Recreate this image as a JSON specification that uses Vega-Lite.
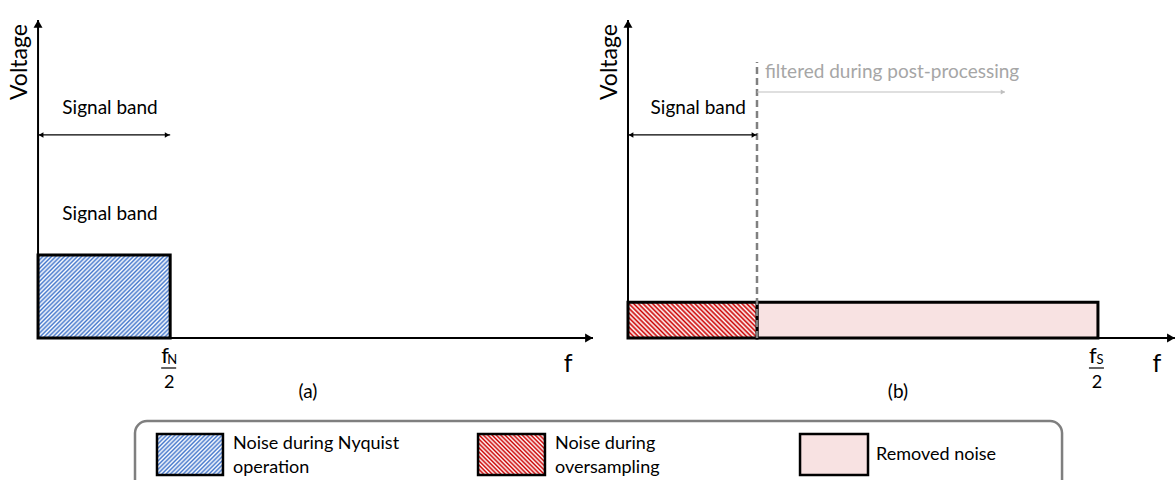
{
  "$schema": "https://vega.github.io/schema/vega-lite/v6.json",
  "background": "white",
  "padding": 0,
  "spacing": 0,
  "config": {
    "view": {"stroke": null},
    "axis": {"disable": true},
    "legend": {"disable": true},
    "font": "Lato",
    "text": {"font": "Lato", "color": "#000000"}
  },
  "vconcat": [
    {
      "bounds": "flush",
      "spacing": 0,
      "hconcat": [
        {
          "width": 593,
          "height": 400,
          "encoding": {
            "x": {"field": "f", "type": "quantitative", "scale": {"domain": [-0.2879, 4.2], "nice": false, "zero": false}},
            "y": {"field": "v", "type": "quantitative", "scale": {"domain": [-0.7796, 4.25], "nice": false, "zero": false}}
          },
          "layer": [
            {
              "data": {"values": [{"item": "Noise during Nyquist operation", "f": 0, "f2": 1, "v": 0, "v2": 1.045}]},
              "mark": {"type": "rect", "stroke": "#000", "strokeWidth": 3,
                "fill": {"gradient": "linear", "x1": 0, "y1": 0, "x2": 1.167, "y2": 0.7347, "stops": [
                  {"offset":0,"color":"#fff"},{"offset":0.01,"color":"#47c"},{"offset":0.02,"color":"#fff"},{"offset":0.03,"color":"#47c"},{"offset":0.04,"color":"#fff"},{"offset":0.05,"color":"#47c"},{"offset":0.06,"color":"#fff"},{"offset":0.07,"color":"#47c"},{"offset":0.08,"color":"#fff"},{"offset":0.09,"color":"#47c"},
                  {"offset":0.1,"color":"#fff"},{"offset":0.11,"color":"#47c"},{"offset":0.12,"color":"#fff"},{"offset":0.13,"color":"#47c"},{"offset":0.14,"color":"#fff"},{"offset":0.15,"color":"#47c"},{"offset":0.16,"color":"#fff"},{"offset":0.17,"color":"#47c"},{"offset":0.18,"color":"#fff"},{"offset":0.19,"color":"#47c"},
                  {"offset":0.2,"color":"#fff"},{"offset":0.21,"color":"#47c"},{"offset":0.22,"color":"#fff"},{"offset":0.23,"color":"#47c"},{"offset":0.24,"color":"#fff"},{"offset":0.25,"color":"#47c"},{"offset":0.26,"color":"#fff"},{"offset":0.27,"color":"#47c"},{"offset":0.28,"color":"#fff"},{"offset":0.29,"color":"#47c"},
                  {"offset":0.3,"color":"#fff"},{"offset":0.31,"color":"#47c"},{"offset":0.32,"color":"#fff"},{"offset":0.33,"color":"#47c"},{"offset":0.34,"color":"#fff"},{"offset":0.35,"color":"#47c"},{"offset":0.36,"color":"#fff"},{"offset":0.37,"color":"#47c"},{"offset":0.38,"color":"#fff"},{"offset":0.39,"color":"#47c"},
                  {"offset":0.4,"color":"#fff"},{"offset":0.41,"color":"#47c"},{"offset":0.42,"color":"#fff"},{"offset":0.43,"color":"#47c"},{"offset":0.44,"color":"#fff"},{"offset":0.45,"color":"#47c"},{"offset":0.46,"color":"#fff"},{"offset":0.47,"color":"#47c"},{"offset":0.48,"color":"#fff"},{"offset":0.49,"color":"#47c"},
                  {"offset":0.5,"color":"#fff"},{"offset":0.51,"color":"#47c"},{"offset":0.52,"color":"#fff"},{"offset":0.53,"color":"#47c"},{"offset":0.54,"color":"#fff"},{"offset":0.55,"color":"#47c"},{"offset":0.56,"color":"#fff"},{"offset":0.57,"color":"#47c"},{"offset":0.58,"color":"#fff"},{"offset":0.59,"color":"#47c"},
                  {"offset":0.6,"color":"#fff"},{"offset":0.61,"color":"#47c"},{"offset":0.62,"color":"#fff"},{"offset":0.63,"color":"#47c"},{"offset":0.64,"color":"#fff"},{"offset":0.65,"color":"#47c"},{"offset":0.66,"color":"#fff"},{"offset":0.67,"color":"#47c"},{"offset":0.68,"color":"#fff"},{"offset":0.69,"color":"#47c"},
                  {"offset":0.7,"color":"#fff"},{"offset":0.71,"color":"#47c"},{"offset":0.72,"color":"#fff"},{"offset":0.73,"color":"#47c"},{"offset":0.74,"color":"#fff"},{"offset":0.75,"color":"#47c"},{"offset":0.76,"color":"#fff"},{"offset":0.77,"color":"#47c"},{"offset":0.78,"color":"#fff"},{"offset":0.79,"color":"#47c"},
                  {"offset":0.8,"color":"#fff"},{"offset":0.81,"color":"#47c"},{"offset":0.82,"color":"#fff"},{"offset":0.83,"color":"#47c"},{"offset":0.84,"color":"#fff"},{"offset":0.85,"color":"#47c"},{"offset":0.86,"color":"#fff"},{"offset":0.87,"color":"#47c"},{"offset":0.88,"color":"#fff"},{"offset":0.89,"color":"#47c"},
                  {"offset":0.9,"color":"#fff"},{"offset":0.91,"color":"#47c"},{"offset":0.92,"color":"#fff"},{"offset":0.93,"color":"#47c"},{"offset":0.94,"color":"#fff"},{"offset":0.95,"color":"#47c"},{"offset":0.96,"color":"#fff"},{"offset":0.97,"color":"#47c"},{"offset":0.98,"color":"#fff"},{"offset":0.99,"color":"#47c"},
                  {"offset":1,"color":"#fff"}]}},
              "encoding": {"x2": {"field": "f2"}, "y2": {"field": "v2"}}
            },
            {
              "data": {"values": [{"f": 0, "v": 0, "v2": 4}]},
              "mark": {"type": "rule", "color": "#000", "strokeWidth": 2},
              "encoding": {"y2": {"field": "v2"}}
            },
            {
              "data": {"values": [{"f": 0, "f2": 4.2, "v": 0}]},
              "mark": {"type": "rule", "color": "#000", "strokeWidth": 2},
              "encoding": {"x2": {"field": "f2"}}
            },
            {
              "data": {"values": [{"f": 0, "v": 4}]},
              "mark": {"type": "point", "shape": "triangle-up", "filled": true, "size": 80, "color": "#000", "opacity": 1, "yOffset": 4}
            },
            {
              "data": {"values": [{"f": 4.2, "v": 0}]},
              "mark": {"type": "point", "shape": "triangle-right", "filled": true, "size": 80, "color": "#000", "opacity": 1, "xOffset": -4}
            },
            {
              "data": {"values": [{"f": 0, "f2": 1, "v": 2.553}]},
              "mark": {"type": "rule", "color": "#000", "strokeWidth": 1.2},
              "encoding": {"x2": {"field": "f2"}}
            },
            {
              "data": {"values": [{"f": 0, "v": 2.553}]},
              "mark": {"type": "point", "shape": "triangle-left", "filled": true, "size": 30, "color": "#000", "opacity": 1, "xOffset": 3}
            },
            {
              "data": {"values": [{"f": 1, "v": 2.553}]},
              "mark": {"type": "point", "shape": "triangle-right", "filled": true, "size": 30, "color": "#000", "opacity": 1, "xOffset": -3}
            },
            {
              "data": {"values": [{"t": "Signal band", "f": 0.545, "v": 2.892}, {"t": "Signal band", "f": 0.545, "v": 1.559}]},
              "mark": {"type": "text", "fontSize": 19, "align": "center", "baseline": "middle"},
              "encoding": {"text": {"field": "t"}}
            },
            {
              "data": {"values": [{"t": "Voltage", "f": -0.136, "v": 3.47}]},
              "mark": {"type": "text", "fontSize": 23, "angle": 270, "align": "center", "baseline": "middle"},
              "encoding": {"text": {"field": "t"}}
            },
            {
              "data": {"values": [{"t": "f", "f": 4.011, "v": 0}]},
              "mark": {"type": "text", "fontSize": 25, "align": "center", "baseline": "alphabetic", "dy": 34},
              "encoding": {"text": {"field": "t"}}
            },
            {
              "data": {"values": [{"t": "(a)", "f": 2.043, "v": 0}]},
              "mark": {"type": "text", "fontSize": 19, "align": "center", "baseline": "middle", "dy": 54},
              "encoding": {"text": {"field": "t"}}
            },
            {
              "data": {"values": [{"t": "f", "f": 1, "v": 0}]},
              "mark": {"type": "text", "fontSize": 22, "align": "center", "baseline": "alphabetic", "dx": -5, "dy": 25},
              "encoding": {"text": {"field": "t"}}
            },
            {
              "data": {"values": [{"t": "N", "f": 1, "v": 0}]},
              "mark": {"type": "text", "fontSize": 13, "align": "center", "baseline": "alphabetic", "dx": 2, "dy": 26},
              "encoding": {"text": {"field": "t"}}
            },
            {
              "data": {"values": [{"f": 1, "f2": 1, "v": 0}]},
              "mark": {"type": "rule", "color": "#000", "strokeWidth": 1.2, "xOffset": -9, "x2Offset": 6, "yOffset": 30},
              "encoding": {"x2": {"field": "f2"}}
            },
            {
              "data": {"values": [{"t": "2", "f": 1, "v": 0}]},
              "mark": {"type": "text", "fontSize": 18, "align": "center", "baseline": "alphabetic", "dx": -1, "dy": 50},
              "encoding": {"text": {"field": "t"}}
            }
          ]
        },
        {
          "width": 583,
          "height": 400,
          "encoding": {
            "x": {"field": "f", "type": "quantitative", "scale": {"domain": [-0.2713, 4.2481], "nice": false, "zero": false}},
            "y": {"field": "v", "type": "quantitative", "scale": {"domain": [-0.7796, 4.25], "nice": false, "zero": false}}
          },
          "layer": [
            {
              "data": {"values": [{"item": "Removed noise", "f": 1, "f2": 3.643, "v": 0, "v2": 0.45}]},
              "mark": {"type": "rect", "fill": "#f8e2e2", "stroke": "#000", "strokeWidth": 3},
              "encoding": {"x2": {"field": "f2"}, "y2": {"field": "v2"}}
            },
            {
              "data": {"values": [{"item": "Noise during oversampling", "f": 0, "f2": 1, "v": 0, "v2": 0.45}]},
              "mark": {"type": "rect", "stroke": "#000", "strokeWidth": 3,
                "fill": {"gradient": "linear", "x1": 0, "y1": 1, "x2": 1.1862, "y2": 0.6708, "stops": [
                  {"offset":0,"color":"#fff"},{"offset":0.0143,"color":"#c00"},{"offset":0.0286,"color":"#fff"},{"offset":0.0429,"color":"#c00"},{"offset":0.0571,"color":"#fff"},{"offset":0.0714,"color":"#c00"},{"offset":0.0857,"color":"#fff"},{"offset":0.1,"color":"#c00"},
                  {"offset":0.1143,"color":"#fff"},{"offset":0.1286,"color":"#c00"},{"offset":0.1429,"color":"#fff"},{"offset":0.1571,"color":"#c00"},{"offset":0.1714,"color":"#fff"},{"offset":0.1857,"color":"#c00"},{"offset":0.2,"color":"#fff"},
                  {"offset":0.2143,"color":"#c00"},{"offset":0.2286,"color":"#fff"},{"offset":0.2429,"color":"#c00"},{"offset":0.2571,"color":"#fff"},{"offset":0.2714,"color":"#c00"},{"offset":0.2857,"color":"#fff"},{"offset":0.3,"color":"#c00"},
                  {"offset":0.3143,"color":"#fff"},{"offset":0.3286,"color":"#c00"},{"offset":0.3429,"color":"#fff"},{"offset":0.3571,"color":"#c00"},{"offset":0.3714,"color":"#fff"},{"offset":0.3857,"color":"#c00"},{"offset":0.4,"color":"#fff"},
                  {"offset":0.4143,"color":"#c00"},{"offset":0.4286,"color":"#fff"},{"offset":0.4429,"color":"#c00"},{"offset":0.4571,"color":"#fff"},{"offset":0.4714,"color":"#c00"},{"offset":0.4857,"color":"#fff"},{"offset":0.5,"color":"#c00"},
                  {"offset":0.5143,"color":"#fff"},{"offset":0.5286,"color":"#c00"},{"offset":0.5429,"color":"#fff"},{"offset":0.5571,"color":"#c00"},{"offset":0.5714,"color":"#fff"},{"offset":0.5857,"color":"#c00"},{"offset":0.6,"color":"#fff"},
                  {"offset":0.6143,"color":"#c00"},{"offset":0.6286,"color":"#fff"},{"offset":0.6429,"color":"#c00"},{"offset":0.6571,"color":"#fff"},{"offset":0.6714,"color":"#c00"},{"offset":0.6857,"color":"#fff"},{"offset":0.7,"color":"#c00"},
                  {"offset":0.7143,"color":"#fff"},{"offset":0.7286,"color":"#c00"},{"offset":0.7429,"color":"#fff"},{"offset":0.7571,"color":"#c00"},{"offset":0.7714,"color":"#fff"},{"offset":0.7857,"color":"#c00"},{"offset":0.8,"color":"#fff"},
                  {"offset":0.8143,"color":"#c00"},{"offset":0.8286,"color":"#fff"},{"offset":0.8429,"color":"#c00"},{"offset":0.8571,"color":"#fff"},{"offset":0.8714,"color":"#c00"},{"offset":0.8857,"color":"#fff"},{"offset":0.9,"color":"#c00"},
                  {"offset":0.9143,"color":"#fff"},{"offset":0.9286,"color":"#c00"},{"offset":0.9429,"color":"#fff"},{"offset":0.9571,"color":"#c00"},{"offset":0.9714,"color":"#fff"},{"offset":0.9857,"color":"#c00"},{"offset":1,"color":"#fff"}]}},
              "encoding": {"x2": {"field": "f2"}, "y2": {"field": "v2"}}
            },
            {
              "data": {"values": [{"f": 0, "v": 0, "v2": 4}]},
              "mark": {"type": "rule", "color": "#000", "strokeWidth": 2},
              "encoding": {"y2": {"field": "v2"}}
            },
            {
              "data": {"values": [{"f": 0, "f2": 4.24, "v": 0}]},
              "mark": {"type": "rule", "color": "#000", "strokeWidth": 2},
              "encoding": {"x2": {"field": "f2"}}
            },
            {
              "data": {"values": [{"f": 0, "v": 4}]},
              "mark": {"type": "point", "shape": "triangle-up", "filled": true, "size": 80, "color": "#000", "opacity": 1, "yOffset": 4}
            },
            {
              "data": {"values": [{"f": 4.24, "v": 0}]},
              "mark": {"type": "point", "shape": "triangle-right", "filled": true, "size": 80, "color": "#000", "opacity": 1, "xOffset": -4}
            },
            {
              "data": {"values": [{"f": 1, "v": 0, "v2": 3.47}]},
              "mark": {"type": "rule", "color": "#808080", "strokeWidth": 2.5, "strokeDash": [7, 4]},
              "encoding": {"y2": {"field": "v2"}}
            },
            {
              "data": {"values": [{"f": 0, "f2": 1, "v": 2.553}]},
              "mark": {"type": "rule", "color": "#000", "strokeWidth": 1.2},
              "encoding": {"x2": {"field": "f2"}}
            },
            {
              "data": {"values": [{"f": 0, "v": 2.553}]},
              "mark": {"type": "point", "shape": "triangle-left", "filled": true, "size": 30, "color": "#000", "opacity": 1, "xOffset": 3}
            },
            {
              "data": {"values": [{"f": 1, "v": 2.553}]},
              "mark": {"type": "point", "shape": "triangle-right", "filled": true, "size": 30, "color": "#000", "opacity": 1, "xOffset": -3}
            },
            {
              "data": {"values": [{"f": 1, "f2": 2.922, "v": 3.093}]},
              "mark": {"type": "rule", "color": "#bfbfbf", "strokeWidth": 1},
              "encoding": {"x2": {"field": "f2"}}
            },
            {
              "data": {"values": [{"f": 2.922, "v": 3.093}]},
              "mark": {"type": "point", "shape": "triangle-right", "filled": true, "size": 25, "color": "#bfbfbf", "opacity": 1, "xOffset": -2}
            },
            {
              "data": {"values": [{"t": "Signal band", "f": 0.545, "v": 2.892}]},
              "mark": {"type": "text", "fontSize": 19, "align": "center", "baseline": "middle"},
              "encoding": {"text": {"field": "t"}}
            },
            {
              "data": {"values": [{"t": "filtered during post-processing", "f": 1.062, "v": 3.345}]},
              "mark": {"type": "text", "fontSize": 19, "align": "left", "baseline": "middle", "color": "#a6a6a6"},
              "encoding": {"text": {"field": "t"}}
            },
            {
              "data": {"values": [{"t": "Voltage", "f": -0.14, "v": 3.47}]},
              "mark": {"type": "text", "fontSize": 23, "angle": 270, "align": "center", "baseline": "middle"},
              "encoding": {"text": {"field": "t"}}
            },
            {
              "data": {"values": [{"t": "f", "f": 4.1, "v": 0}]},
              "mark": {"type": "text", "fontSize": 25, "align": "center", "baseline": "alphabetic", "dy": 34},
              "encoding": {"text": {"field": "t"}}
            },
            {
              "data": {"values": [{"t": "(b)", "f": 2.093, "v": 0}]},
              "mark": {"type": "text", "fontSize": 19, "align": "center", "baseline": "middle", "dy": 54},
              "encoding": {"text": {"field": "t"}}
            },
            {
              "data": {"values": [{"t": "f", "f": 3.643, "v": 0}]},
              "mark": {"type": "text", "fontSize": 22, "align": "center", "baseline": "alphabetic", "dx": -5, "dy": 25},
              "encoding": {"text": {"field": "t"}}
            },
            {
              "data": {"values": [{"t": "S", "f": 3.643, "v": 0}]},
              "mark": {"type": "text", "fontSize": 13, "align": "center", "baseline": "alphabetic", "dx": 2, "dy": 26},
              "encoding": {"text": {"field": "t"}}
            },
            {
              "data": {"values": [{"f": 3.643, "f2": 3.643, "v": 0}]},
              "mark": {"type": "rule", "color": "#000", "strokeWidth": 1.2, "xOffset": -9, "x2Offset": 6, "yOffset": 30},
              "encoding": {"x2": {"field": "f2"}}
            },
            {
              "data": {"values": [{"t": "2", "f": 3.643, "v": 0}]},
              "mark": {"type": "text", "fontSize": 18, "align": "center", "baseline": "alphabetic", "dx": -1, "dy": 50},
              "encoding": {"text": {"field": "t"}}
            }
          ]
        }
      ]
    },
    {
      "width": 1176,
      "height": 80,
      "encoding": {
        "x": {"field": "x", "type": "quantitative", "scale": {"domain": [0, 100], "nice": false, "zero": false}},
        "y": {"field": "y", "type": "quantitative", "scale": {"domain": [0, 1], "nice": false, "zero": false}}
      },
      "layer": [
        {
          "data": {"values": [{"x": 11.48, "x2": 90.31, "y": -0.6, "y2": 0.7625}]},
          "mark": {"type": "rect", "fill": "#ffffff", "fillOpacity": 0, "stroke": "#7f7f7f", "strokeWidth": 2.5, "cornerRadius": 12, "clip": true},
          "encoding": {"x2": {"field": "x2"}, "y2": {"field": "y2"}}
        },
        {
          "data": {"values": [{"item": "Noise during Nyquist operation", "x": 13.35, "x2": 18.96, "y": 0.0875, "y2": 0.6}]},
          "mark": {"type": "rect", "stroke": "#000", "strokeWidth": 2.5,
            "fill": {"gradient": "linear", "x1": 0, "y1": 0, "x2": 1.1698, "y2": 0.7267, "stops": [
              {"offset":0,"color":"#fff"},{"offset":0.02,"color":"#47c"},{"offset":0.04,"color":"#fff"},{"offset":0.06,"color":"#47c"},{"offset":0.08,"color":"#fff"},{"offset":0.1,"color":"#47c"},{"offset":0.12,"color":"#fff"},{"offset":0.14,"color":"#47c"},{"offset":0.16,"color":"#fff"},{"offset":0.18,"color":"#47c"},
              {"offset":0.2,"color":"#fff"},{"offset":0.22,"color":"#47c"},{"offset":0.24,"color":"#fff"},{"offset":0.26,"color":"#47c"},{"offset":0.28,"color":"#fff"},{"offset":0.3,"color":"#47c"},{"offset":0.32,"color":"#fff"},{"offset":0.34,"color":"#47c"},{"offset":0.36,"color":"#fff"},{"offset":0.38,"color":"#47c"},
              {"offset":0.4,"color":"#fff"},{"offset":0.42,"color":"#47c"},{"offset":0.44,"color":"#fff"},{"offset":0.46,"color":"#47c"},{"offset":0.48,"color":"#fff"},{"offset":0.5,"color":"#47c"},{"offset":0.52,"color":"#fff"},{"offset":0.54,"color":"#47c"},{"offset":0.56,"color":"#fff"},{"offset":0.58,"color":"#47c"},
              {"offset":0.6,"color":"#fff"},{"offset":0.62,"color":"#47c"},{"offset":0.64,"color":"#fff"},{"offset":0.66,"color":"#47c"},{"offset":0.68,"color":"#fff"},{"offset":0.7,"color":"#47c"},{"offset":0.72,"color":"#fff"},{"offset":0.74,"color":"#47c"},{"offset":0.76,"color":"#fff"},{"offset":0.78,"color":"#47c"},
              {"offset":0.8,"color":"#fff"},{"offset":0.82,"color":"#47c"},{"offset":0.84,"color":"#fff"},{"offset":0.86,"color":"#47c"},{"offset":0.88,"color":"#fff"},{"offset":0.9,"color":"#47c"},{"offset":0.92,"color":"#fff"},{"offset":0.94,"color":"#47c"},{"offset":0.96,"color":"#fff"},{"offset":0.98,"color":"#47c"},
              {"offset":1,"color":"#fff"}]}},
          "encoding": {"x2": {"field": "x2"}, "y2": {"field": "y2"}}
        },
        {
          "data": {"values": [{"item": "Noise during oversampling", "x": 40.65, "x2": 46.34, "y": 0.0875, "y2": 0.6}]},
          "mark": {"type": "rect", "stroke": "#000", "strokeWidth": 2.5,
            "fill": {"gradient": "linear", "x1": 0, "y1": 1, "x2": 1.1725, "y2": 0.2815, "stops": [
              {"offset":0,"color":"#fff"},{"offset":0.02,"color":"#c00"},{"offset":0.04,"color":"#fff"},{"offset":0.06,"color":"#c00"},{"offset":0.08,"color":"#fff"},{"offset":0.1,"color":"#c00"},{"offset":0.12,"color":"#fff"},{"offset":0.14,"color":"#c00"},{"offset":0.16,"color":"#fff"},{"offset":0.18,"color":"#c00"},
              {"offset":0.2,"color":"#fff"},{"offset":0.22,"color":"#c00"},{"offset":0.24,"color":"#fff"},{"offset":0.26,"color":"#c00"},{"offset":0.28,"color":"#fff"},{"offset":0.3,"color":"#c00"},{"offset":0.32,"color":"#fff"},{"offset":0.34,"color":"#c00"},{"offset":0.36,"color":"#fff"},{"offset":0.38,"color":"#c00"},
              {"offset":0.4,"color":"#fff"},{"offset":0.42,"color":"#c00"},{"offset":0.44,"color":"#fff"},{"offset":0.46,"color":"#c00"},{"offset":0.48,"color":"#fff"},{"offset":0.5,"color":"#c00"},{"offset":0.52,"color":"#fff"},{"offset":0.54,"color":"#c00"},{"offset":0.56,"color":"#fff"},{"offset":0.58,"color":"#c00"},
              {"offset":0.6,"color":"#fff"},{"offset":0.62,"color":"#c00"},{"offset":0.64,"color":"#fff"},{"offset":0.66,"color":"#c00"},{"offset":0.68,"color":"#fff"},{"offset":0.7,"color":"#c00"},{"offset":0.72,"color":"#fff"},{"offset":0.74,"color":"#c00"},{"offset":0.76,"color":"#fff"},{"offset":0.78,"color":"#c00"},
              {"offset":0.8,"color":"#fff"},{"offset":0.82,"color":"#c00"},{"offset":0.84,"color":"#fff"},{"offset":0.86,"color":"#c00"},{"offset":0.88,"color":"#fff"},{"offset":0.9,"color":"#c00"},{"offset":0.92,"color":"#fff"},{"offset":0.94,"color":"#c00"},{"offset":0.96,"color":"#fff"},{"offset":0.98,"color":"#c00"},
              {"offset":1,"color":"#fff"}]}},
          "encoding": {"x2": {"field": "x2"}, "y2": {"field": "y2"}}
        },
        {
          "data": {"values": [{"item": "Removed noise", "x": 68.03, "x2": 73.81, "y": 0.0875, "y2": 0.6}]},
          "mark": {"type": "rect", "fill": "#f8e2e2", "stroke": "#000", "strokeWidth": 2.5},
          "encoding": {"x2": {"field": "x2"}, "y2": {"field": "y2"}}
        },
        {
          "data": {"values": [
            {"t": "Noise during Nyquist", "x": 19.81, "y": 0.475},
            {"t": "operation", "x": 19.81, "y": 0.175},
            {"t": "Noise during", "x": 47.19, "y": 0.475},
            {"t": "oversampling", "x": 47.19, "y": 0.175},
            {"t": "Removed noise", "x": 74.49, "y": 0.3375}
          ]},
          "mark": {"type": "text", "fontSize": 18, "align": "left", "baseline": "middle"},
          "encoding": {"text": {"field": "t"}}
        }
      ]
    }
  ]
}
